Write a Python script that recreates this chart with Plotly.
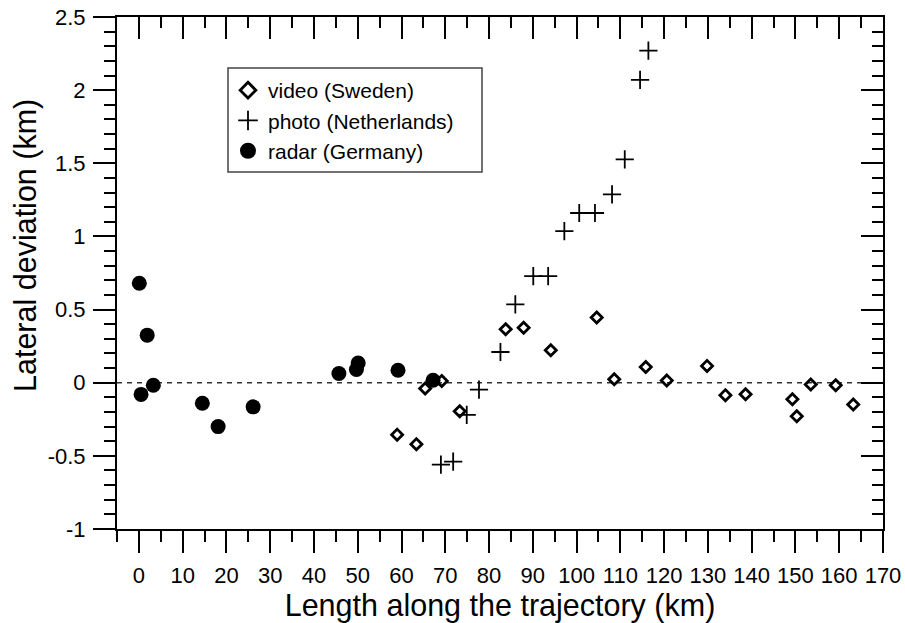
import plotly.graph_objects as go

# ---- data ----
video_x = [59.0, 63.4, 65.4, 69.2, 73.3, 83.8, 87.9, 94.1, 104.6, 108.6, 115.8, 120.6,
           129.8, 134.0, 138.6, 149.3, 150.3, 153.5, 159.2, 163.2]
video_y = [-0.355, -0.42, -0.04, 0.012, -0.195, 0.366, 0.376, 0.222, 0.446, 0.024, 0.108, 0.015,
           0.115, -0.085, -0.079, -0.113, -0.229, -0.012, -0.017, -0.149]

photo_x = [69.0, 71.8, 74.9, 77.7, 82.6, 86.0, 90.1, 93.5, 97.2, 100.6, 104.2, 108.1, 111.0, 114.5, 116.4]
photo_y = [-0.56, -0.54, -0.22, -0.047, 0.21, 0.536, 0.728, 0.728, 1.036, 1.16, 1.16, 1.287, 1.527, 2.07, 2.27]

radar_x = [0.1, 1.9, 0.5, 3.3, 14.5, 18.1, 26.1, 45.7, 49.7, 50.1, 59.2, 67.2]
radar_y = [0.68, 0.325, -0.08, -0.017, -0.14, -0.30, -0.165, 0.063, 0.09, 0.135, 0.085, 0.017]

series_names = ["video (Sweden)", "photo (Netherlands)", "radar (Germany)"]

x_tickvals = [0, 10, 20, 30, 40, 50, 60, 70, 80, 90, 100, 110, 120, 130, 140, 150, 160, 170]
x_ticktext = ["0", "10", "20", "30", "40", "50", "60", "70", "80", "90", "100", "110", "120",
              "130", "140", "150", "160", "170"]
y_tickvals = [-1, -0.5, 0, 0.5, 1, 1.5, 2, 2.5]
y_ticktext = ["-1", "-0.5", "0", "0.5", "1", "1.5", "2", "2.5"]

x_title = "Length along the trajectory (km)"
y_title = "Lateral deviation (km)"

x_range = [-5, 170]
y_range = [-1, 2.5]

FONT = "Liberation Sans, Arial, Helvetica, sans-serif"

# plot-area geometry (pixels) used for paper-coordinate conversions
W, H = 905, 623
ML, MR, MT, MB = 117, 22, 17, 94
PW, PH = W - ML - MR, H - MT - MB


def px(xp):
    return (xp - ML) / PW


def py(yp):
    return (H - MB - yp) / PH


styles = [
    dict(symbol="diamond-open", size=8.5, lw=2.8, leg_size=12),
    dict(symbol="cross-thin-open", size=13, lw=1.8, leg_size=14),
    dict(symbol="circle", size=15, lw=0, leg_size=19),
]
series = [(video_x, video_y), (photo_x, photo_y), (radar_x, radar_y)]

fig = go.Figure()
for (xs, ys), st, nm in zip(series, styles, series_names):
    fig.add_trace(go.Scatter(
        x=xs, y=ys, mode="markers", name=nm, showlegend=False,
        marker=dict(symbol=st["symbol"], size=st["size"], color="black",
                    line=dict(width=st["lw"], color="black"))))
# legend-only entries (larger symbols, as in the original legend)
for st, nm in zip(styles, series_names):
    fig.add_trace(go.Scatter(
        x=[None], y=[None], mode="markers", name=nm, showlegend=True,
        marker=dict(symbol=st["symbol"], size=st["leg_size"], color="black",
                    line=dict(width=st["lw"], color="black"))))
# dummy trace for the mirrored (top/right) axes
fig.add_trace(go.Scatter(x=[None], y=[None], xaxis="x2", yaxis="y2", showlegend=False,
                         hoverinfo="skip", mode="markers"))

# zero reference line
fig.add_shape(type="line", xref="paper", yref="y", x0=0, x1=1, y0=0, y1=0,
              line=dict(color="#333333", width=1.5, dash="5px,5px"), layer="below")

# legend frame
fig.add_shape(type="rect", xref="paper", yref="paper", x0=px(228), x1=px(482), y0=py(172), y1=py(68),
              line=dict(color="#444444", width=1.5), fillcolor="white", layer="below")

# y-axis title (slightly above centre, as in the original)
fig.add_annotation(text=y_title, xref="paper", yref="paper", x=px(25), y=py(246),
                   textangle=-90, showarrow=False, xanchor="center", yanchor="middle",
                   font=dict(size=30.5, family=FONT, color="black"))

axis_common = dict(showgrid=False, zeroline=False, showline=True, linecolor="black", linewidth=2,
                   tickcolor="black", tickwidth=2, ticklen=22, automargin=False)

fig.update_layout(
    width=W, height=H,
    margin=dict(l=ML, r=MR, t=MT, b=MB),
    paper_bgcolor="white", plot_bgcolor="white",
    font=dict(family=FONT, color="black", size=22),
    showlegend=True,
    legend=dict(x=px(228), y=py(70), xanchor="left", yanchor="top",
                borderwidth=0, bgcolor="rgba(0,0,0,0)",
                font=dict(size=21, family=FONT, color="black"),
                tracegroupgap=0),
    xaxis=dict(range=x_range, tickvals=x_tickvals, ticktext=x_ticktext, ticks="outside",
               tickfont=dict(size=22, family=FONT), ticklabelstandoff=4,
               minor=dict(dtick=5, tick0=0, ticks="outside", ticklen=11, tickwidth=2, tickcolor="black"),
               title=dict(text=x_title, font=dict(size=30.5, family=FONT), standoff=7),
               **axis_common),
    yaxis=dict(range=y_range, tickvals=y_tickvals, ticktext=y_ticktext, ticks="outside",
               tickfont=dict(size=22, family=FONT), ticklabelstandoff=3,
               minor=dict(dtick=0.1, tick0=0, ticks="outside", ticklen=11, tickwidth=2, tickcolor="black"),
               **axis_common),
    xaxis2=dict(range=x_range, overlaying="x", side="top", tickvals=x_tickvals, ticks="inside",
                showticklabels=False,
                minor=dict(dtick=5, tick0=0, ticks="inside", ticklen=11, tickwidth=2, tickcolor="black"),
                **axis_common),
    yaxis2=dict(range=y_range, overlaying="y", side="right", tickvals=y_tickvals, ticks="inside",
                showticklabels=False,
                minor=dict(dtick=0.1, tick0=0, ticks="inside", ticklen=11, tickwidth=2, tickcolor="black"),
                **axis_common),
)

fig.write_html("out.html")
